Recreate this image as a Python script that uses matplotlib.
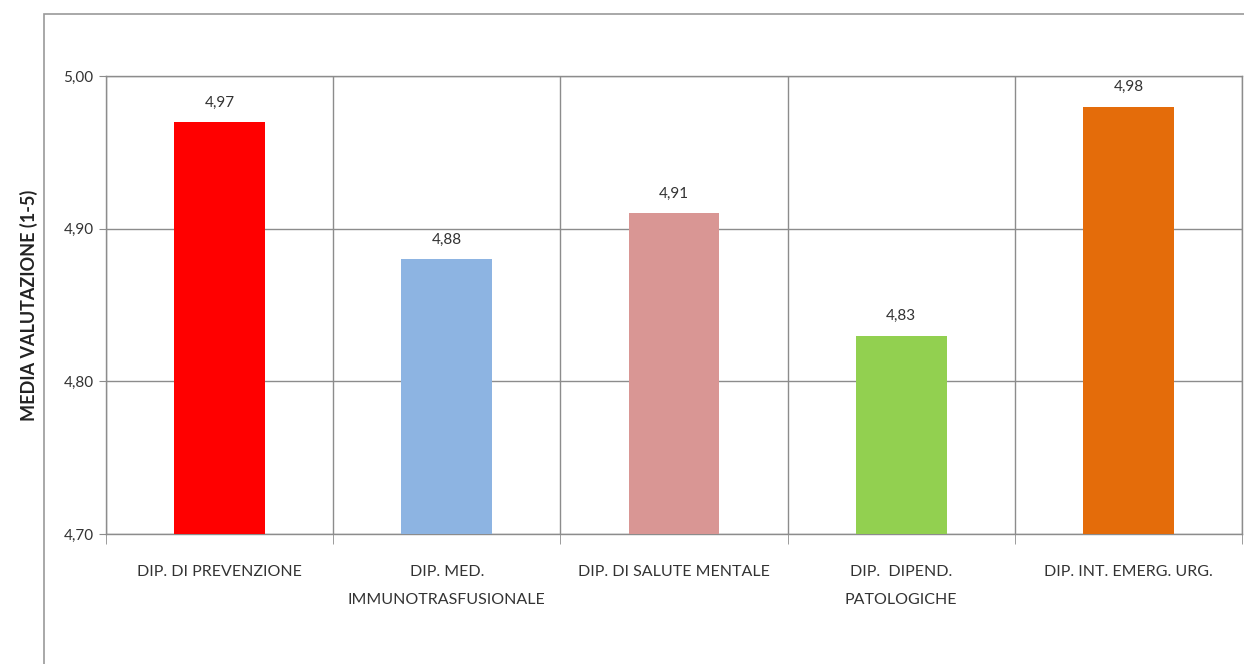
import matplotlib.pyplot as plt
import numpy as np
from matplotlib.patches import Rectangle

departments = ["DIP. DI PREVENZIONE", "DIP. MED.\nIMMUNOTRASFUSIONALE", "DIP. DI SALUTE MENTALE",
               "DIP.  DIPEND.\nPATOLOGICHE", "DIP. INT. EMERG. URG."]
scores = [4.97, 4.88, 4.91, 4.83, 4.98]
colors = ["#FF0000", "#8DB4E2", "#D99694", "#92D050", "#E46C0A"]
yticks = [4.70, 4.80, 4.90, 5.00]

plt.rcParams['font.family'] = ['Lato', 'DejaVu Sans']
grey = "#8c8c8c"

fig = plt.figure(figsize=(12.44, 6.64), dpi=100)
ax = fig.add_axes([106/1244, 1 - 534/664, (1242 - 106)/1244, (534 - 76)/664])

# outer chart frame
fig.add_artist(Rectangle((44/1244, -0.05), 1.0, 1 - 14/664 + 0.05, transform=fig.transFigure,
                         fill=False, edgecolor="#999999", linewidth=1.2))

x = np.arange(len(departments))
ax.bar(x, [s - 4.70 for s in scores], bottom=4.70, width=0.4, color=colors, zorder=3)
for xi, s in zip(x, scores):
    ax.text(xi, s + 0.008, f"{s:.2f}".replace(".", ","), ha="center", va="bottom",
            fontsize=11, color="#333333")

ax.set_xlim(-0.5, len(departments) - 0.5)
ax.set_ylim(4.70, 5.00)
ax.set_yticks(yticks)
ax.set_yticklabels([f"{v:.2f}".replace(".", ",") for v in yticks], fontsize=11, color="#333333")
ax.set_xticks(x)
ax.set_xticklabels(departments, fontsize=11.5, color="#333333", linespacing=2.3)
ax.set_xticks(np.arange(-0.5, len(departments)), minor=True)
ax.tick_params(axis="x", which="major", length=0, pad=22)
ax.tick_params(axis="x", which="minor", length=7, color=grey)
ax.tick_params(axis="y", length=5, color=grey, pad=4)
ax.grid(axis="y", color=grey, linewidth=1, zorder=0)
ax.grid(axis="x", which="minor", color=grey, linewidth=1, zorder=0)
for sp in ax.spines.values():
    sp.set_color(grey)
    sp.set_linewidth(1)

ax.set_ylabel("MEDIA VALUTAZIONE (1-5)", fontsize=13, fontweight="bold", color="#222222", labelpad=18)

fig.savefig("out.png", dpi=100)
